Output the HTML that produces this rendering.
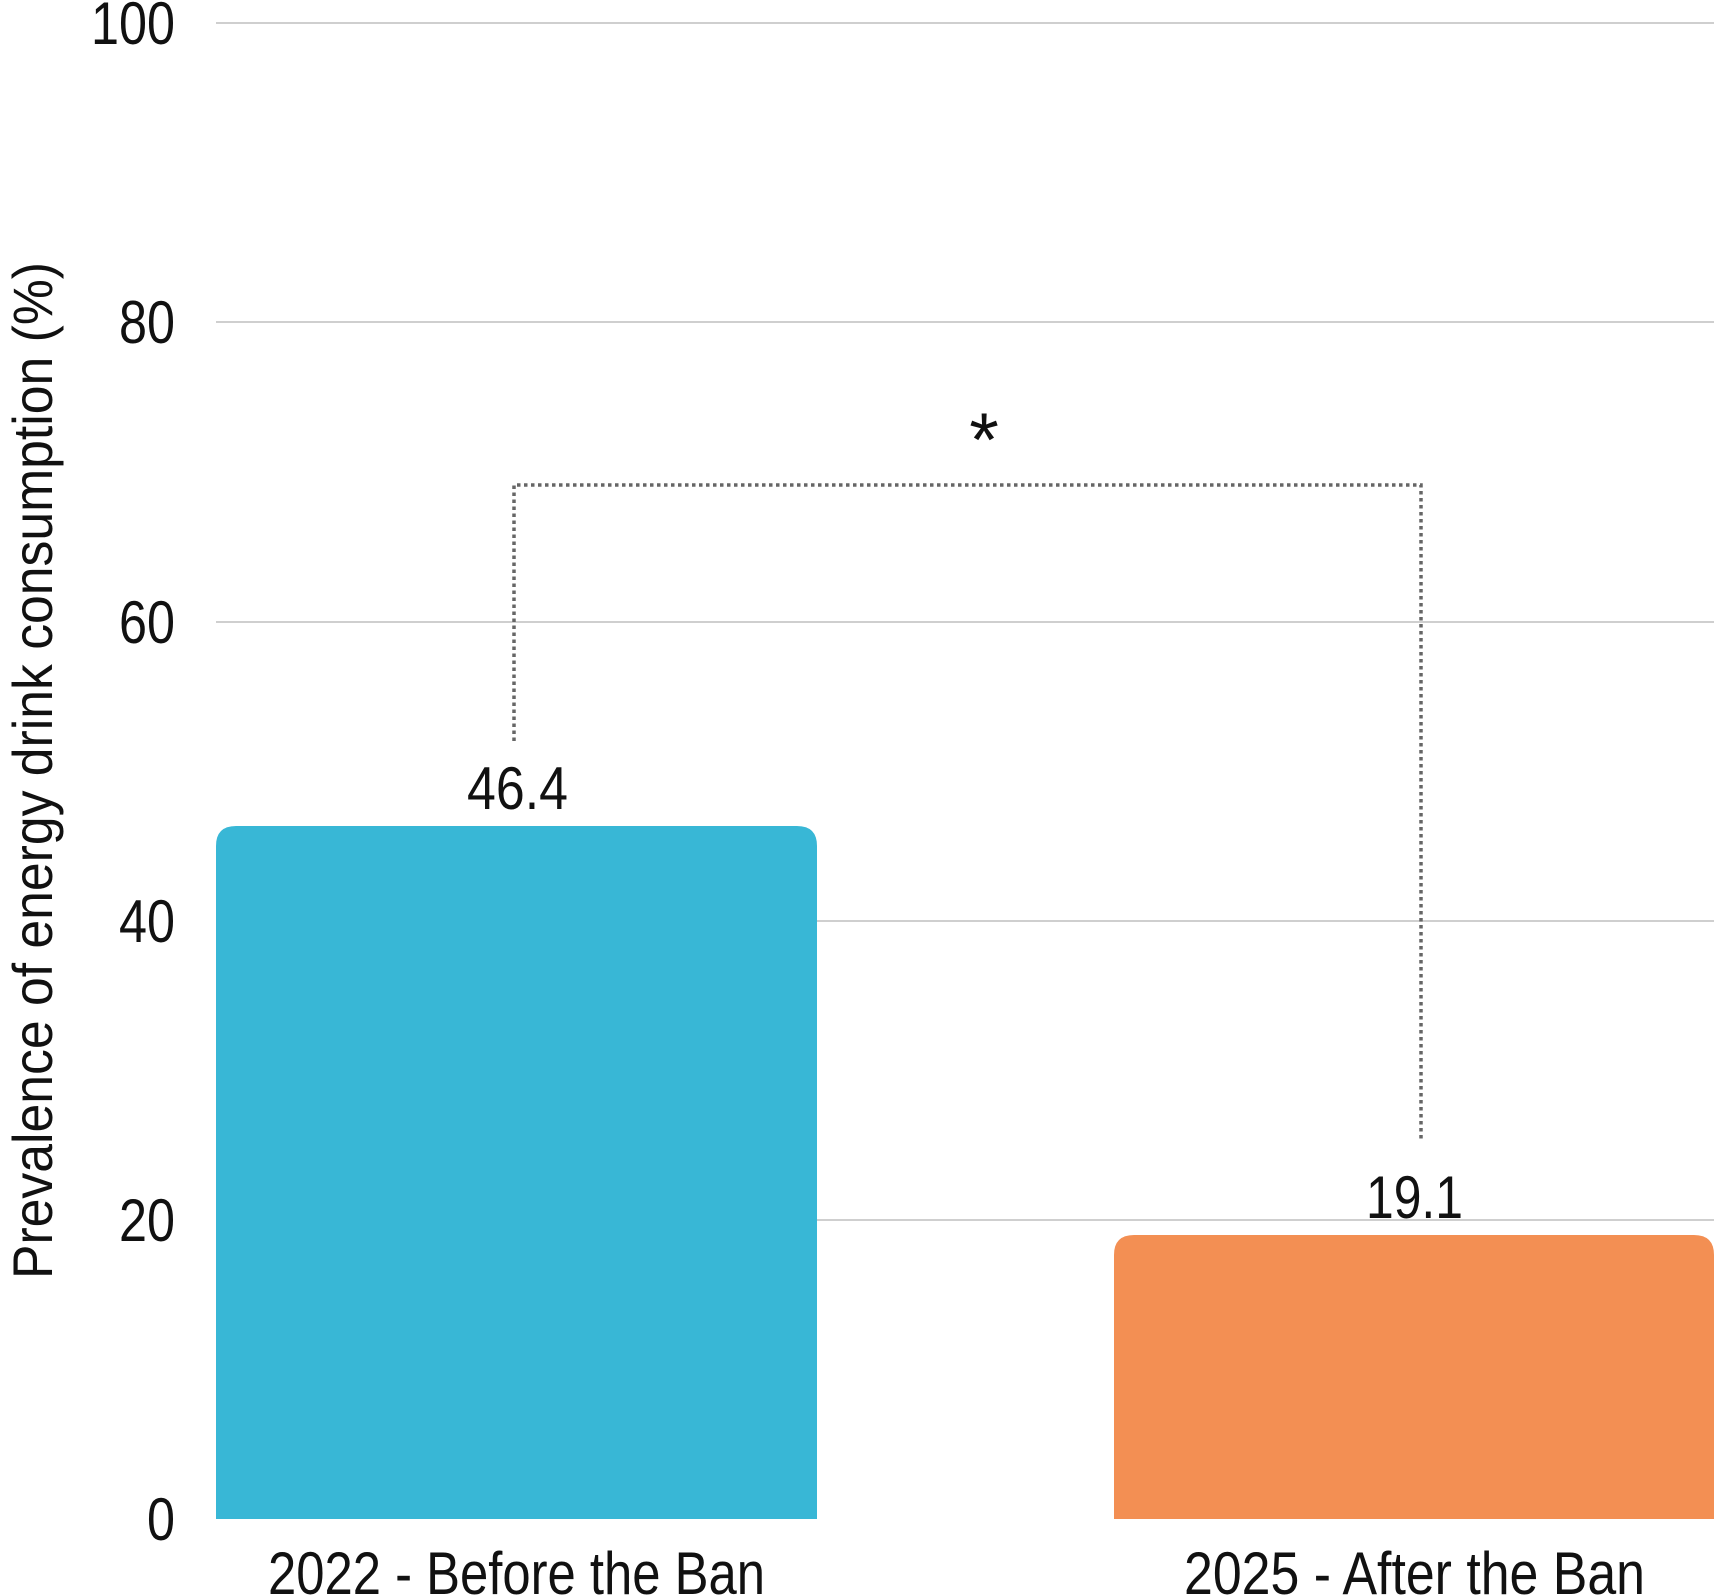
<!DOCTYPE html>
<html><head><meta charset="utf-8"><style>
html,body{margin:0;padding:0;background:#fff;}
svg{display:block;}
text{font-family:"Liberation Sans Narrow","Liberation Sans",sans-serif;fill:#111;}
</style></head><body>
<svg width="1714" height="1596" viewBox="0 0 1714 1596" xmlns="http://www.w3.org/2000/svg">
<g stroke="#cfcfcf" stroke-width="2">
<line x1="216" y1="23" x2="1714" y2="23"/>
<line x1="216" y1="322" x2="1714" y2="322"/>
<line x1="216" y1="622" x2="1714" y2="622"/>
<line x1="216" y1="921" x2="1714" y2="921"/>
<line x1="216" y1="1220" x2="1714" y2="1220"/>
</g>
<path d="M216,1519 V846 Q216,826 236,826 H797 Q817,826 817,846 V1519 Z" fill="#38b7d6"/>
<path d="M1114,1519 V1255 Q1114,1235 1134,1235 H1694 Q1714,1235 1714,1255 V1519 Z" fill="#f38f53"/>
<g font-size="60">
<text x="91" y="44" textLength="84" lengthAdjust="spacingAndGlyphs">100</text>
<text x="119" y="343" textLength="56" lengthAdjust="spacingAndGlyphs">80</text>
<text x="119" y="643" textLength="56" lengthAdjust="spacingAndGlyphs">60</text>
<text x="119" y="942" textLength="56" lengthAdjust="spacingAndGlyphs">40</text>
<text x="119" y="1241" textLength="56" lengthAdjust="spacingAndGlyphs">20</text>
<text x="147" y="1540" textLength="28" lengthAdjust="spacingAndGlyphs">0</text>
<text x="268" y="1594" textLength="497" lengthAdjust="spacingAndGlyphs">2022 - Before the Ban</text>
<text x="1184" y="1594" textLength="461" lengthAdjust="spacingAndGlyphs">2025 - After the Ban</text>
<text x="467" y="809" textLength="101" lengthAdjust="spacingAndGlyphs">46.4</text>
<text x="1366" y="1218" textLength="97" lengthAdjust="spacingAndGlyphs">19.1</text>
</g>
<text transform="translate(52,1279) rotate(-90)" font-size="56" textLength="1017" lengthAdjust="spacingAndGlyphs">Prevalence of energy drink consumption (%)</text>
<path d="M514,741 V485 H1421 V1142" fill="none" stroke="#666" stroke-width="3.5" stroke-dasharray="3.5,3.5"/>
<text x="984" y="466" font-size="76" text-anchor="middle" fill="#444">*</text>
</svg>
</body></html>
